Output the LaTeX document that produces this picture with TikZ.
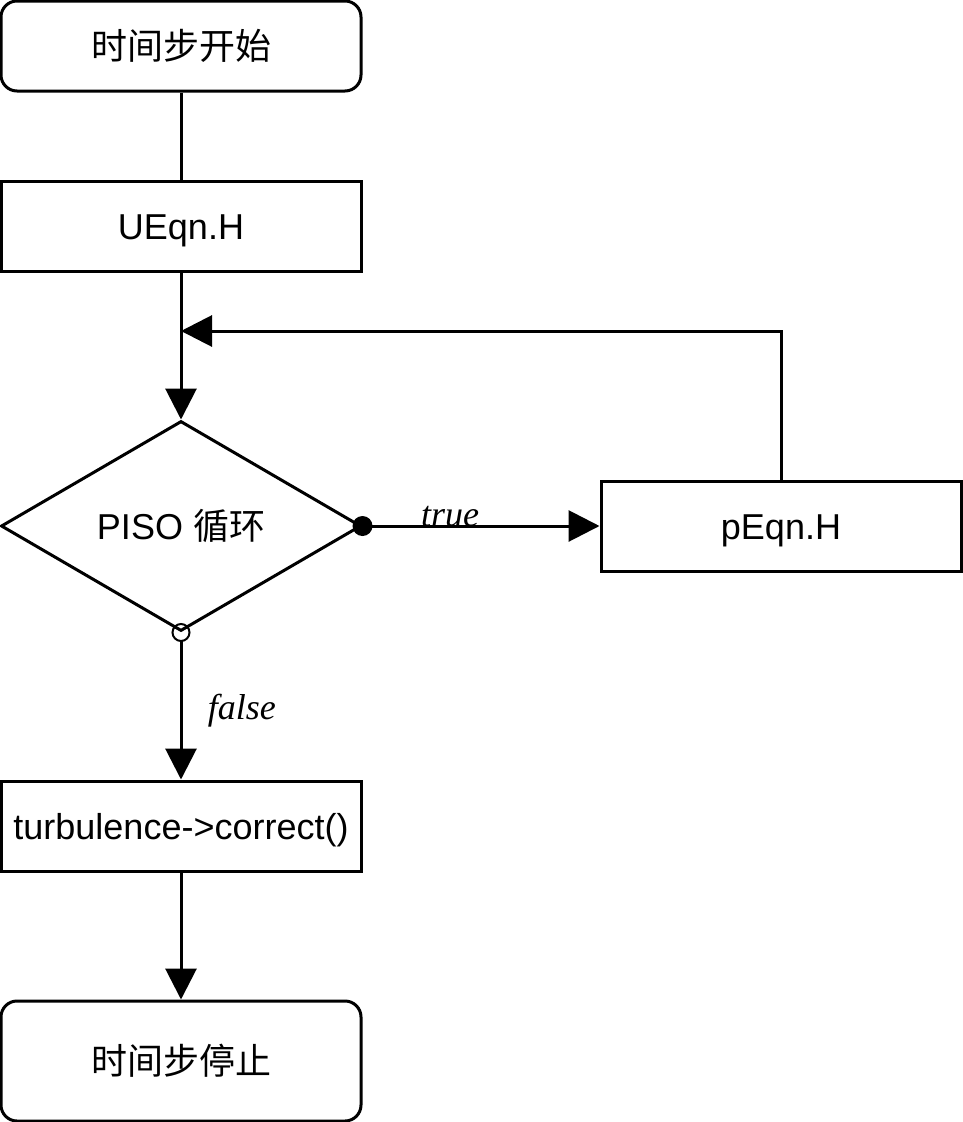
\documentclass[tikz,border=0pt]{standalone}
\usepackage{fontspec}
\setmainfont{Liberation Sans}
\newfontfamily\cjk{Noto Sans CJK SC}
\newfontfamily\tms{Liberation Serif}
\usetikzlibrary{shapes.geometric,arrows.meta}
\begin{document}
\begin{tikzpicture}[x=1pt,y=-1pt,
  every node/.style={font=\fontsize{36}{42}\selectfont},
  box/.style={draw,line width=3pt,minimum width=360pt,minimum height=90pt,inner sep=0pt,fill=white,text height=27pt,text depth=0pt},
  rbox/.style={box,rounded corners=16pt},
  dia/.style={draw,diamond,aspect=1.714,line width=3pt,minimum width=360pt,minimum height=210pt,inner sep=0pt,text height=27pt,text depth=0pt},
  conn/.style={line width=3pt},
  arr/.style={conn,-{Triangle[length=31pt,width=31pt]}},
  lbl/.style={font=\tms\itshape\fontsize{36}{42}\selectfont}]
\useasboundingbox (0,0) rectangle (963,1122);
\node[rbox] (start) at (181,46) {\cjk 时间步开始};
\node[box] (ueqn) at (181,226) {UEqn.H};
\node[dia] (piso) at (181,526) {PISO {\cjk 循环}};
\node[box] (peqn) at (781,526) {pEqn.H};
\node[box] (turb) at (181,826) {turbulence->correct()};
\node[rbox,minimum height=120pt] (stop) at (181,1061) {\cjk 时间步停止};
\coordinate (join) at (181,331);
\draw[conn] (start.south) -- (ueqn.north);
\draw[arr] (ueqn.south) -- (piso.north);
\draw[arr] (peqn.north) |- (join);
\fill (piso.east) circle (10pt);
\draw[arr] (piso.east) -- node[lbl,above=-6pt,pos=0.37] {true} (peqn.west);
\draw[line width=2pt] (piso.south) circle (8.5pt);
\coordinate (fs) at ([yshift=-8.5pt]piso.south);
\draw[arr] (fs) -- node[lbl,right=22pt,pos=0.5] {false} (turb.north);
\draw[arr] (turb.south) -- (stop.north);
\end{tikzpicture}
\end{document}
